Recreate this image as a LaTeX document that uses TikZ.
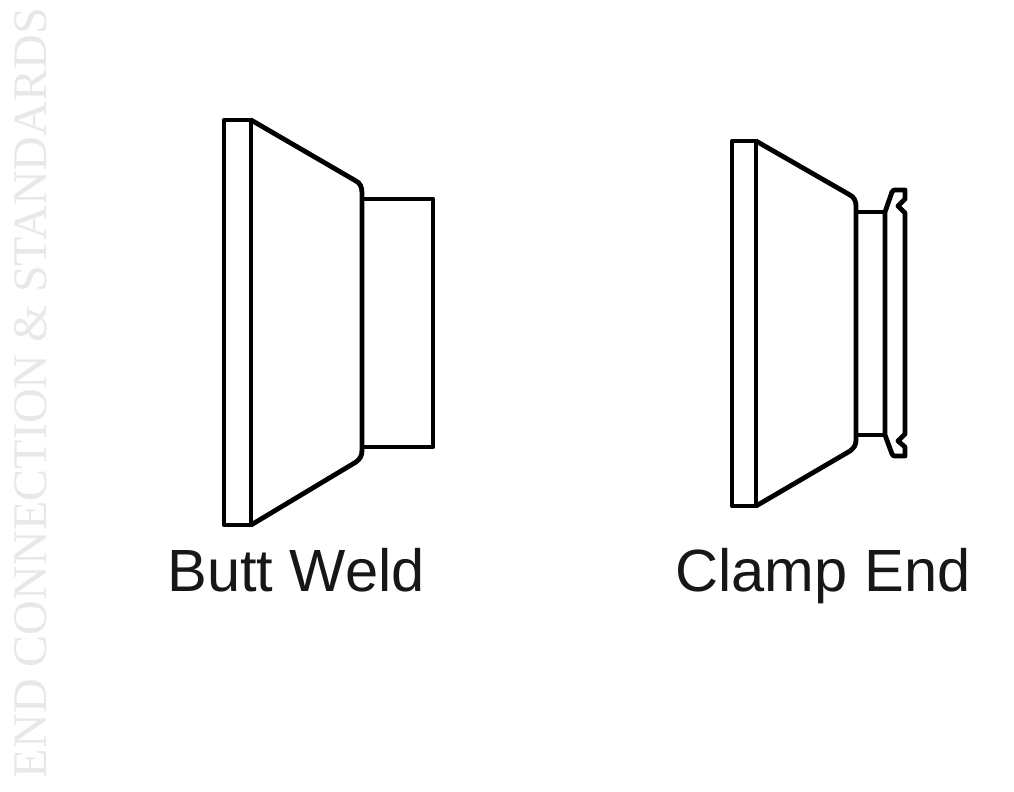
\documentclass[tikz,border=0pt]{standalone}
\usepackage{fontspec}
\setmainfont{Liberation Sans}
\newfontfamily\serifmark{Liberation Serif}
\definecolor{markgray}{gray}{0.91}
\definecolor{labelblack}{gray}{0.09}

\begin{document}
\begin{tikzpicture}[x=0.75pt,y=-0.75pt,line width=3.6pt,line join=round]
\tikzset{
	fitting/.style={draw=black},
	caption/.style={text=labelblack,font=\fontsize{44.7}{54}\selectfont,inner sep=0pt,anchor=base},
}
\useasboundingbox (0,0) rectangle (1014,792);

% butt weld
\draw[fitting] (224,120) rectangle (251,525);
\draw[fitting] (251,120) -- (356,181)
	.. controls (360,183) and (362,187) .. (362,193)
	-- (362,450)
	.. controls (362,456) and (360,459) .. (356,462)
	-- (251,525);
\draw[fitting] (362,199) -- (433,199) -- (433,447) -- (362,447);

% clamp end
\draw[fitting] (732,141) rectangle (756,506);
\draw[fitting] (756,141) -- (850,195)
	.. controls (854,197) and (856,201) .. (856,206)
	-- (856,440)
	.. controls (856,445) and (854,448) .. (850,451)
	-- (756,506);
\draw[fitting] (856,212) -- (885,212);
\draw[fitting] (856,435) -- (885,435);
\draw[fitting] (885,212) -- (885,435) -- (892,454)
	.. controls (893,456) and (894,456) .. (895,456)
	-- (905,456) -- (905,447) -- (898,441) -- (905,434)
	-- (905,213) -- (898,206) -- (905,199) -- (905,190)
	-- (895,190)
	.. controls (894,190) and (893,190) .. (892,192)
	-- cycle;

\node[caption] (buttweld) at (296,591) {Butt Weld};
\node[caption] (clampend) at (823,591) {Clamp End};

\node[text=markgray,font=\serifmark\fontsize{36.1}{42}\selectfont,inner sep=0pt,anchor=base,rotate=90]
	(sidemark) at (46,393) {END CONNECTION \& STANDARDS};

\end{tikzpicture}
\end{document}
